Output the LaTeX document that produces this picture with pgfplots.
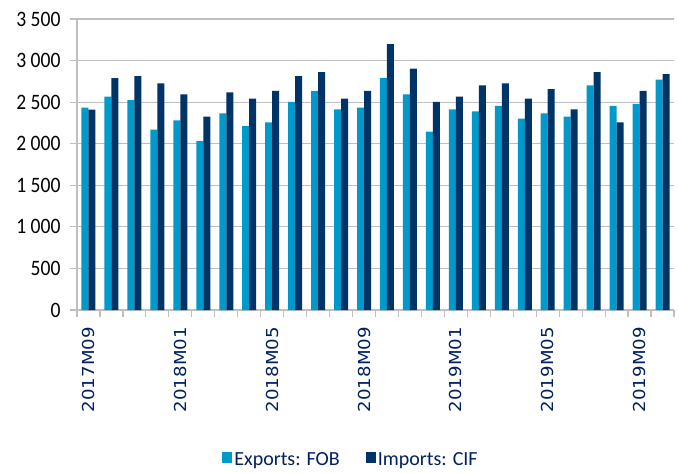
\documentclass[border=0pt]{standalone}
\usepackage{fontspec}
\setmainfont{Carlito}
\newfontfamily\ycarl[FakeStretch=0.89]{Carlito}
\newfontfamily\dejavu[FakeStretch=1.1]{DejaVu Sans}
\usepackage{pgfplots}
\pgfplotsset{compat=1.18}
\definecolor{expc}{RGB}{0,153,204}
\definecolor{impc}{RGB}{0,51,102}
\definecolor{navytxt}{RGB}{0,32,96}
\definecolor{gridc}{RGB}{191,191,191}
\begin{document}
\begin{tikzpicture}
\useasboundingbox (-77pt,-163pt) rectangle (602pt,310pt);
\begin{axis}[
 at={(0,0)}, anchor=south west,
 scale only axis, width=597pt, height=291pt,
 xmin=-0.5, xmax=25.5, ymin=0, ymax=3500,
 ybar=0pt, bar width=7pt,
 axis lines*=left,
 axis line style={gridc, line width=1.2pt},
 ytick={0,500,...,3500},
 yticklabels={0,500,1 000,1 500,2 000,2 500,3 000,3 500},
 ymajorgrids, grid style={gridc, line width=1.2pt},
 tick align=outside, major tick length=7pt,
 tick style={gridc, line width=1.2pt},
 xtick={-0.5,0.5,...,25.5}, xticklabels={},
 extra x ticks={0,4,8,12,16,20,24},
 extra x tick labels={2017M09,2018M01,2018M05,2018M09,2019M01,2019M05,2019M09},
 extra x tick style={major tick length=0pt, grid=none, xticklabel style={rotate=90, anchor=east, inner xsep=17pt, font=\dejavu\fontsize{16.5}{18}\selectfont, text=navytxt}},
 yticklabel style={font=\ycarl\fontsize{22}{24}\selectfont, text=black, xshift=-6pt},
 legend style={at={(0.459,-0.516)}, anchor=center, draw=none, fill=none, legend columns=2, font=\fontsize{20}{22}\selectfont, text=navytxt, /tikz/every even column/.append style={column sep=24pt}},
 legend image code/.code={\fill[#1] (0pt,-3pt) rectangle (10pt,8pt);},
]
\addplot[fill=expc, draw=none] coordinates {
(0,2434) (1,2567) (2,2523) (3,2168) (4,2281) (5,2031) (6,2366) (7,2212) (8,2257) (9,2503) (10,2636) (11,2414) (12,2434)
(13,2789) (14,2592) (15,2144) (16,2414) (17,2390) (18,2454) (19,2301) (20,2366) (21,2325) (22,2701) (23,2454) (24,2479) (25,2770)};
\addplot[fill=impc, draw=none] coordinates {
(0,2410) (1,2789) (2,2814) (3,2725) (4,2592) (5,2325) (6,2616) (7,2543) (8,2636) (9,2814) (10,2862) (11,2543) (12,2636)
(13,3197) (14,2903) (15,2503) (16,2567) (17,2701) (18,2725) (19,2543) (20,2656) (21,2414) (22,2862) (23,2257) (24,2636) (25,2838)};
\legend{Exports: FOB, Imports: CIF}
\end{axis}
\end{tikzpicture}
\end{document}
